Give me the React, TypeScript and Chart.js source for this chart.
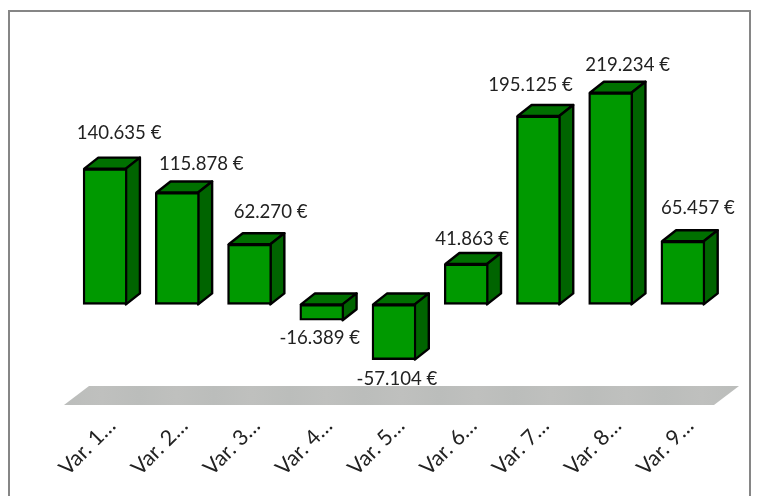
import React, { useEffect, useRef } from "react";
import { Chart, registerables } from "chart.js";

Chart.register(...registerables);

const categories = ["Var. 1…", "Var. 2…", "Var. 3…", "Var. 4…", "Var. 5…", "Var. 6…", "Var. 7…", "Var. 8…", "Var. 9…"];
const values = [140635, 115878, 62270, -16389, -57104, 41863, 195125, 219234, 65457];
const valueLabels = ["140.635 €", "115.878 €", "62.270 €", "-16.389 €", "-57.104 €", "41.863 €", "195.125 €", "219.234 €", "65.457 €"];
const labelShiftX = [14, 24, 21, -2, 3, 6, -8, 17, 15];
const labelShiftY = [-36, -29, -32, 18, 19, -25, -31, -28, -33];

const DEPTH_X = 14;
const DEPTH_Y = 11;
const LINE = 2.4;
const FONT = "Lato, 'Noto Sans', sans-serif";

const box3d = {
  id: "box3d",
  beforeDatasetsDraw(chart: any) {
    const { ctx, chartArea } = chart;
    const fl = chartArea.left - 5;
    const fr = chartArea.right - 5;
    const fb = chartArea.bottom + 4;
    const ft = fb - 19;
    const grad = ctx.createLinearGradient(fl, 0, fr + 25, 0);
    for (let i = 0; i <= 18; i++) {
      grad.addColorStop(i / 18, i % 2 ? "#BFC0BE" : "#BBBDBB");
    }
    ctx.save();
    ctx.fillStyle = grad;
    ctx.beginPath();
    ctx.moveTo(fl, fb);
    ctx.lineTo(fl + 25, ft);
    ctx.lineTo(fr + 25, ft);
    ctx.lineTo(fr, fb);
    ctx.closePath();
    ctx.fill();

    const meta = chart.getDatasetMeta(0);
    ctx.strokeStyle = "#000";
    ctx.lineWidth = LINE;
    ctx.lineJoin = "round";
    meta.data.forEach((bar: any) => {
      const hw = bar.width / 2 - LINE / 2;
      const l = bar.x - hw;
      const r = bar.x + hw;
      const top = Math.min(bar.y, bar.base);
      const bottom = Math.max(bar.y, bar.base);
      ctx.fillStyle = "#007000";
      ctx.beginPath();
      ctx.moveTo(l, top);
      ctx.lineTo(l + DEPTH_X, top - DEPTH_Y);
      ctx.lineTo(r + DEPTH_X, top - DEPTH_Y);
      ctx.lineTo(r, top);
      ctx.closePath();
      ctx.fill();
      ctx.stroke();
      ctx.fillStyle = "#006400";
      ctx.beginPath();
      ctx.moveTo(r, top);
      ctx.lineTo(r + DEPTH_X, top - DEPTH_Y);
      ctx.lineTo(r + DEPTH_X, bottom - DEPTH_Y);
      ctx.lineTo(r, bottom);
      ctx.closePath();
      ctx.fill();
      ctx.stroke();
    });
    ctx.restore();
  },
  afterDatasetsDraw(chart: any) {
    const { ctx } = chart;
    const meta = chart.getDatasetMeta(0);
    ctx.save();
    ctx.font = `18.6px ${FONT}`;
    ctx.fillStyle = "#222";
    ctx.textAlign = "center";
    ctx.textBaseline = "middle";
    meta.data.forEach((bar: any, i: number) => {
      ctx.fillText(valueLabels[i], bar.x + labelShiftX[i], bar.y + labelShiftY[i]);
    });
    ctx.restore();
  },
};

export default function App() {
  const ref = useRef<HTMLCanvasElement>(null);
  useEffect(() => {
    const chart = new Chart(ref.current!, {
      type: "bar",
      data: {
        labels: categories,
        datasets: [
          {
            data: values,
            backgroundColor: "#009900",
            borderColor: "#000",
            borderWidth: LINE,
            borderSkipped: false,
            barThickness: 44,
          },
        ],
      },
      options: {
        responsive: false,
        animation: false,
        layout: { padding: { left: 69, right: 38, top: 63, bottom: 0 } },
        plugins: { legend: { display: false }, tooltip: { enabled: false }, title: { display: false } },
        scales: {
          x: {
            grid: { display: false },
            border: { display: false },
            afterFit: (s: any) => {
              s.height = 95;
            },
            ticks: {
              autoSkip: false,
              maxRotation: 45,
              minRotation: 45,
              padding: 4,
              labelOffset: 7,
              color: "#222",
              font: { family: FONT, size: 21.5 },
            },
          },
          y: { display: false, min: -100000, max: 250000 },
        },
      },
      plugins: [box3d],
    } as any);
    return () => chart.destroy();
  }, []);
  return (
    <div style={{ position: "fixed", left: 0, top: 0, width: 757, height: 496, overflow: "hidden", background: "#fff" }}>
      <div
        style={{
          position: "absolute",
          left: 8,
          top: 10,
          width: 739,
          height: 500,
          border: "2px solid #868686",
          boxSizing: "content-box",
        }}
      />
      <canvas ref={ref} width={757} height={496} style={{ position: "absolute", left: 0, top: 0 }} />
    </div>
  );
}
